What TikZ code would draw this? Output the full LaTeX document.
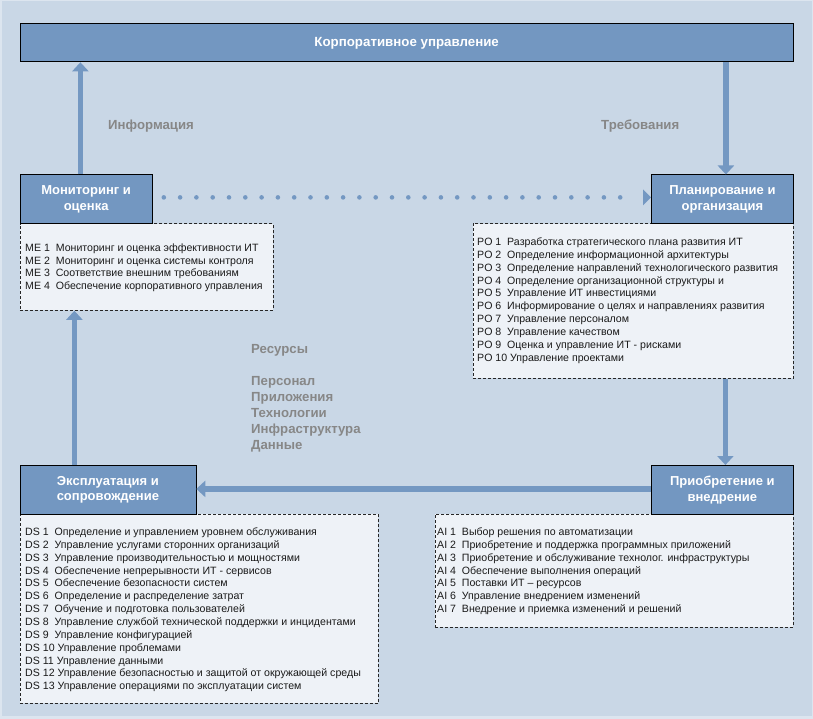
\documentclass[tikz,border=0pt]{standalone}
\usepackage{fontspec}
\setmainfont{Liberation Sans}
\usetikzlibrary{arrows.meta,calc}
\definecolor{bgc}{HTML}{C9D7E6}
\definecolor{framec}{HTML}{DCE5EF}
\definecolor{boxc}{HTML}{7397C1}
\definecolor{arrc}{HTML}{7498C2}
\definecolor{listc}{HTML}{EEF2F7}
\definecolor{labc}{HTML}{878787}
\definecolor{txtc}{HTML}{1A1A1A}
\tikzset{
 titlebox/.style={draw=black, line width=0.8pt, fill=boxc, text=white, font=\bfseries\fontsize{13}{15.5}\selectfont, align=center, inner sep=0pt, anchor=north west},
 listbox/.style={draw=black!85, line width=0.8pt, dash pattern=on 3pt off 2pt, fill=listc, inner sep=0pt, anchor=north west},
 listtext/.style={font=\fontsize{10.6}{12.85}\selectfont, text=txtc, align=left, inner sep=0pt, anchor=north west},
 graylab/.style={font=\bfseries\fontsize{13.2}{16}\selectfont, text=labc, align=left, inner sep=0pt},
 arr/.style={draw=arrc, line width=5.5pt, -{Triangle[width=16pt,length=9pt]}},
 dotline/.style={draw=arrc, line width=4.6pt, line cap=round, dash pattern=on 0pt off 16.3pt},
}
\begin{document}
\begin{tikzpicture}[x=1pt,y=-1pt]
\useasboundingbox (0,0) rectangle (813,719);
\fill[framec] (0,0) rectangle (813,719);
\fill[bgc] (1.5,1.5) rectangle (811.5,715.5);

% list boxes
\node[listbox, minimum width=253pt, minimum height=86.5pt] (mebox) at (19.5,223.5) {};
\node[listbox, minimum width=320.5pt, minimum height=154.5pt] (pobox) at (472.5,223.5) {};
\node[listbox, minimum width=358.5pt, minimum height=189pt] (dsbox) at (19.5,514) {};
\node[listbox, minimum width=358pt, minimum height=113pt] (aibox) at (435,514) {};

% title boxes
\node[titlebox, minimum width=773.5pt, minimum height=38pt, font=\bfseries\fontsize{13.3}{15}\selectfont] (corp) at (19.5,23.5) {Корпоративное управление};
\node[titlebox, minimum width=132.5pt, minimum height=49pt] (mon) at (19.5,174.5) {Мониторинг и\\оценка};
\node[titlebox, minimum width=142pt, minimum height=49pt] (plan) at (651,174.5) {Планирование и\\организация};
\node[titlebox, minimum width=142pt, minimum height=49pt] (acq) at (651,465) {Приобретение и\\внедрение};
\node[titlebox, minimum width=176pt, minimum height=49pt] (exp) at (19.5,465) {Эксплуатация и\\сопровождение};

% list texts
\node[listtext] (metext) at ($(mebox.north west)+(5.5,17.5)$) {\rule{0pt}{10pt}ME 1\ \ Мониторинг и оценка эффективности ИТ\\
ME 2\ \ Мониторинг и оценка системы контроля\\
ME 3\ \ Соответствие внешним требованиям\\
ME 4\ \ Обеспечение корпоративного управления};

\node[listtext] (potext) at ($(pobox.north west)+(4.5,11.8)$) {\rule{0pt}{10pt}PO 1\ \ Разработка стратегического плана развития ИТ\\
PO 2\ \ Определение информационной архитектуры\\
PO 3\ \ Определение направлений технологического развития\\
PO 4\ \ Определение организационной структуры и\\
PO 5\ \ Управление ИТ инвестициями\\
PO 6\ \ Информирование о целях и направлениях развития\\
PO 7\ \ Управление персоналом\\
PO 8\ \ Управление качеством\\
PO 9\ \ Оценка и управление ИТ - рисками\\
PO 10\ Управление проектами};

\node[listtext] (aitext) at ($(aibox.north west)+(2,11.3)$) {\rule{0pt}{10pt}AI 1\ \ Выбор решения по автоматизации\\
AI 2\ \ Приобретение и поддержка программных приложений\\
AI 3\ \ Приобретение и обслуживание технолог. инфраструктуры\\
AI 4\ \ Обеспечение выполнения операций\\
AI 5\ \ Поставки ИТ – ресурсов\\
AI 6\ \ Управление внедрением изменений\\
AI 7\ \ Внедрение и приемка изменений и решений};

\node[listtext] (dstext) at ($(dsbox.north west)+(5.5,11.3)$) {\rule{0pt}{10pt}DS 1\ \ Определение и управлением уровнем обслуживания\\
DS 2\ \ Управление услугами сторонних организаций\\
DS 3\ \ Управление производительностью и мощностями\\
DS 4\ \ Обеспечение непрерывности ИТ - сервисов\\
DS 5\ \ Обеспечение безопасности систем\\
DS 6\ \ Определение и распределение затрат\\
DS 7\ \ Обучение и подготовка пользователей\\
DS 8\ \ Управление службой технической поддержки и инцидентами\\
DS 9\ \ Управление конфигурацией\\
DS 10\ Управление проблемами\\
DS 11\ Управление данными\\
DS 12\ Управление безопасностью и защитой от окружающей среды\\
DS 13\ Управление операциями по эксплуатации систем};

% gray labels
\node[graylab, anchor=base west] (info) at (108,129.5) {Информация};
\node[graylab, anchor=base west] (req) at (601,129.5) {Требования};
\node[graylab, anchor=north west] (res) at (251,343.5) {\rule{0pt}{10pt}Ресурсы\\[16pt]Персонал\\Приложения\\Технологии\\Инфраструктура\\Данные};

% arrows
\draw[arr] ([xshift=-5.75pt]mon.north) -- ([xshift=-5.75pt]mon.north |- corp.south);
\draw[arr] ([xshift=3.5pt]plan.north |- corp.south) -- ([xshift=3.5pt]plan.north);
\draw[arr] ([xshift=3pt]acq.north |- pobox.south) -- ([xshift=3pt]acq.north);
\draw[arr] ([yshift=1pt]acq.west) -- ([yshift=1pt]exp.east);
\draw[arr] ([xshift=-33.5pt]exp.north) -- ([xshift=-33.5pt]exp.north |- mebox.south);

% dotted arrow
\draw[dotline] ($(mon.east)+(11,-2)$) -- ($(plan.west)+(-15,-2)$);
\fill[arrc] ($(plan.west)+(-8,-10)$) -- ($(plan.west)+(0,-2)$) -- ($(plan.west)+(-8,6)$) -- cycle;
\end{tikzpicture}
\end{document}
